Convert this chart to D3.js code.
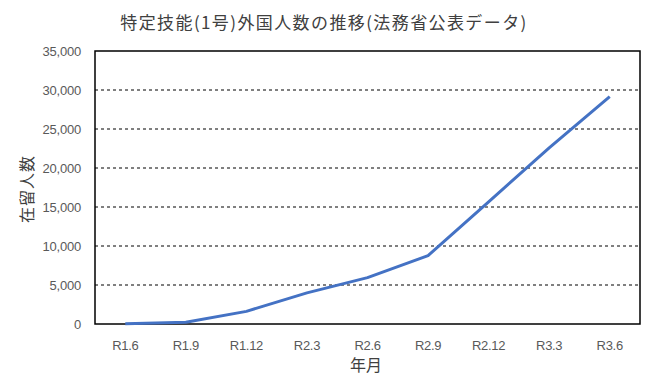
<!DOCTYPE html>
<html><head><meta charset="utf-8">
<script src="https://cdn.jsdelivr.net/npm/d3@7"></script>
<style>body{margin:0;background:#fff}</style>
</head><body>
<svg id="c" width="654" height="392"></svg>
<script>
const categories = ["R1.6","R1.9","R1.12","R2.3","R2.6","R2.9","R2.12","R3.3","R3.6"];
const values = [20,219,1621,3987,5950,8769,15663,22567,29144];
const yTicks = [0,5000,10000,15000,20000,25000,30000,35000];
const title = "特定技能(1号)外国人数の推移(法務省公表データ)";
const yLabel = "在留人数";
const xLabel = "年月";

const svg = d3.select("#c");
const m = {l:95, r:640, t:51, b:324};
const x = d3.scaleBand().domain(categories).range([m.l, m.r]);
const y = d3.scaleLinear().domain([0,35000]).range([m.b, m.t]);
const font = "'Liberation Sans', Arial, sans-serif";
const jfont = "'Noto Sans CJK JP', sans-serif";

svg.append("text").attr("x",324).attr("y",29).attr("text-anchor","middle")
  .attr("font-family",jfont).attr("font-size",17).attr("letter-spacing",1.4).attr("fill","#404040").text(title);

// gridlines
svg.append("g").selectAll("line").data(yTicks.filter(d=>d>0&&d<35000)).join("line")
  .attr("x1",m.l).attr("x2",m.r).attr("y1",d=>y(d)).attr("y2",d=>y(d))
  .attr("stroke","#000").attr("stroke-width",1).attr("stroke-dasharray","3,3");

// y axis labels
const yAxis = d3.axisLeft(y).tickValues(yTicks).tickSize(0).tickPadding(14).tickFormat(d3.format(","));
const gy = svg.append("g").attr("transform",`translate(${m.l},0)`).call(yAxis);
gy.select(".domain").remove();
gy.selectAll("text").attr("font-family",font).attr("font-size",13).attr("fill","#595959").attr("letter-spacing","-0.2");

// x axis labels
const xAxis = d3.axisBottom(x).tickSize(0).tickPadding(17);
const gx = svg.append("g").attr("transform",`translate(0,${m.b})`).call(xAxis);
gx.select(".domain").remove();
gx.selectAll("text").attr("font-family",font).attr("font-size",13).attr("fill","#595959").attr("letter-spacing","-0.3");

// border
svg.append("rect").attr("x",m.l).attr("y",m.t).attr("width",m.r-m.l).attr("height",m.b-m.t)
  .attr("fill","none").attr("stroke","#000").attr("stroke-width",1.5);

// line
const line = d3.line().x((d,i)=>x(categories[i])+x.bandwidth()/2).y(d=>y(d));
svg.append("path").datum(values).attr("d",line).attr("fill","none")
  .attr("stroke","#4472C4").attr("stroke-width",3).attr("stroke-linejoin","round");

svg.append("text").attr("x",366).attr("y",371).attr("text-anchor","middle")
  .attr("font-family",jfont).attr("font-size",16).attr("fill","#404040").text(xLabel);
svg.append("text").attr("transform","translate(33,189) rotate(-90)").attr("text-anchor","middle")
  .attr("font-family",jfont).attr("font-size",16).attr("letter-spacing",1).attr("fill","#404040").text(yLabel);
</script>
</body></html>
